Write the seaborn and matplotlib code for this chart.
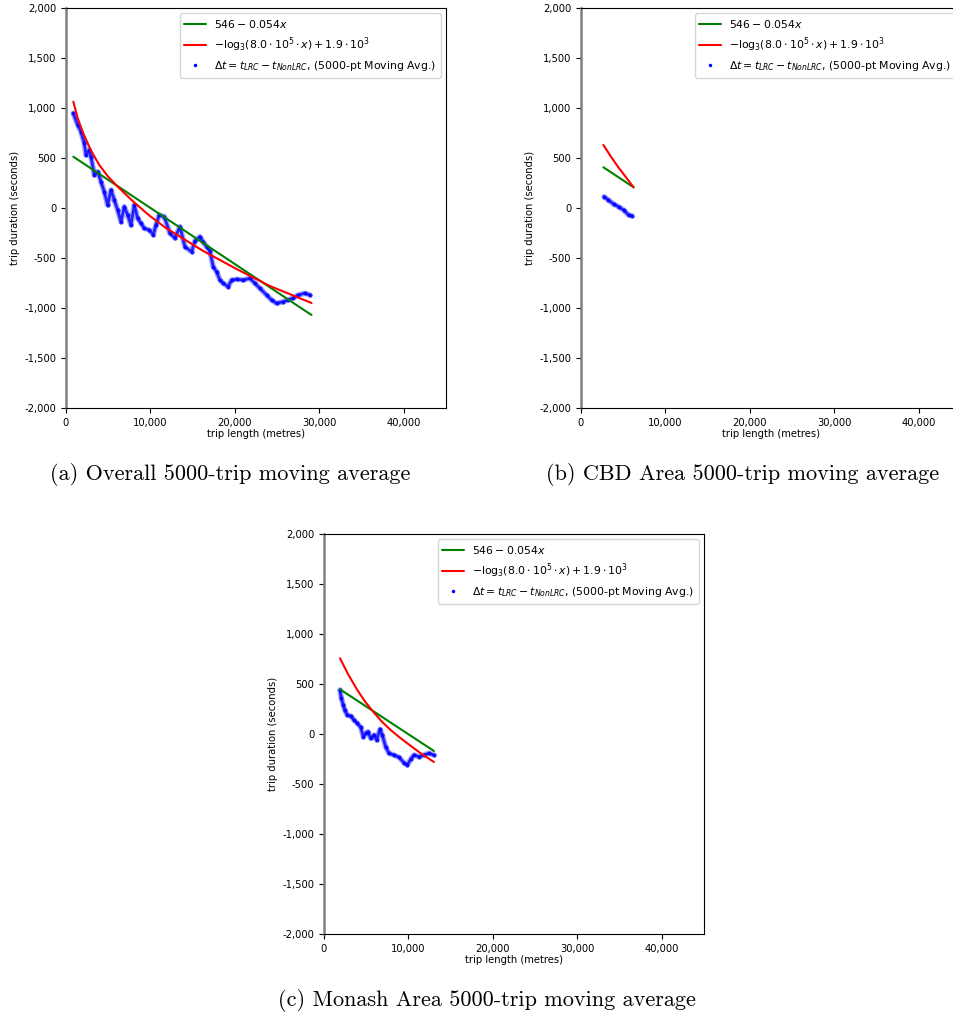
import numpy as np
import matplotlib
matplotlib.use("Agg")
import matplotlib.pyplot as plt
from matplotlib.lines import Line2D
from matplotlib.ticker import FuncFormatter
import seaborn as sns

# ---- data ----
# (a) Overall
a_len = [868, 1381, 1775, 2170, 2367, 2762, 2959, 3353, 3748, 4142, 4537, 4931, 5326, 5720,
         6115, 6509, 6904, 7298, 7693, 8087, 8482, 8876, 9271, 9863, 10336, 10652, 11046, 11638,
         12308, 12899, 13491, 14083, 14871, 15266, 15858, 16252, 16647, 17041, 17436, 17830,
         18225, 18619, 19211, 19606, 20197, 20986, 21775, 22367, 22959, 23748, 24339, 24931,
         25720, 26312, 26903, 27495, 28284, 28876]
a_dt = [947, 830, 763, 647, 530, 580, 513, 330, 363, 263, 163, 30, 180, 80,
        -20, -137, 13, -70, -170, 30, -103, -153, -203, -220, -267, -170, -70, -87,
        -253, -300, -187, -387, -437, -330, -287, -340, -387, -430, -587, -637,
        -720, -753, -787, -720, -713, -720, -703, -753, -803, -870, -920, -953,
        -937, -920, -900, -870, -853, -870]
a_lin_x = [868, 29073]
a_lin_y = [513, -1070]
a_log_x = [868, 1381, 1972, 2959, 3945, 4931, 5918, 7890, 9863, 11835, 16252, 20197, 24142, 29073]
a_log_y = [1063, 900, 760, 575, 430, 320, 230, 70, -75, -200, -430, -610, -780, -950]

# (b) CBD
b_len = [2738, 3254, 3849, 4444, 5040, 5635, 6032]
b_dt = [113, 80, 40, 13, -20, -70, -77]
b_lin_x = [2655, 6230]
b_lin_y = [407, 207]
b_log_x = [2655, 3452, 4440, 5440, 6230]
b_log_y = [630, 525, 405, 295, 207]

# (c) Monash
c_len = [1894, 2051, 2288, 2446, 2762, 3156, 3551, 3945, 4340, 4655, 4931, 5207, 5523, 5918,
         6233, 6628, 6904, 7298, 7693, 8285, 8876, 9468, 9863, 10257, 10652, 11243, 11835,
         12427, 13019]
c_dt = [440, 357, 290, 240, 190, 180, 140, 107, 67, -27, 7, 23, -43, -10,
        -60, 47, -10, -127, -193, -210, -233, -287, -310, -253, -210, -227, -210,
        -193, -210]
c_lin_x = [1894, 13019]
c_lin_y = [447, -170]
c_log_x = [1894, 2900, 3945, 4900, 5918, 6900, 7890, 8900, 9863, 11400, 13019]
c_log_y = [757, 590, 440, 320, 213, 120, 40, -30, -93, -190, -280]

captions = ["(a) Overall 5000-trip moving average",
            "(b) CBD Area 5000-trip moving average",
            "(c) Monash Area 5000-trip moving average"]

lin_label = r"$546 - 0.054x$"
log_label = r"$-\mathrm{log}_3(8.0\cdot10^5\cdot x) + 1.9\cdot10^3$"
ma_label = r"$\Delta t = t_{LRC} - t_{NonLRC}$, (5000-pt Moving Avg.)"

sns.set_style("ticks")
plt.rcParams["font.family"] = ["DejaVu Sans"]
plt.rcParams["font.size"] = 7.2
plt.rcParams["text.color"] = "black"
plt.rcParams["axes.labelcolor"] = "black"

fig = plt.figure(figsize=(9.54, 10.18), dpi=100)

W, H = 954, 1018
def px_axes(left, top, w=380, h=400):
    return fig.add_axes([left / W, 1 - (top + h) / H, w / W, h / H])

panels = [
    (px_axes(66, 8), a_len, a_dt, a_lin_x, a_lin_y, a_log_x, a_log_y),
    (px_axes(581, 8), b_len, b_dt, b_lin_x, b_lin_y, b_log_x, b_log_y),
    (px_axes(324, 534), c_len, c_dt, c_lin_x, c_lin_y, c_log_x, c_log_y),
]

fmt = FuncFormatter(lambda v, p: f"{v:,.0f}")
for ax, xl, yl, lx, ly, gx, gy in panels:
    # moving average band: wide translucent stroke + denser core
    sns.lineplot(x=xl, y=yl, ax=ax, color="blue", lw=4.0, alpha=0.35, sort=False,
                 estimator=None)
    sns.lineplot(x=xl, y=yl, ax=ax, color="blue", lw=2.0, alpha=0.8, sort=False,
                 estimator=None, marker="o", markersize=3, markeredgewidth=0)
    sns.lineplot(x=lx, y=ly, ax=ax, color="green", lw=1.5, sort=False, estimator=None)
    sns.lineplot(x=gx, y=gy, ax=ax, color="red", lw=1.5, sort=False, estimator=None)
    ax.set_xlim(0, 45000)
    ax.set_ylim(-2000, 2000)
    ax.set_xticks([0, 10000, 20000, 30000, 40000])
    ax.set_yticks(np.arange(-2000, 2001, 500))
    ax.xaxis.set_major_formatter(fmt)
    ax.yaxis.set_major_formatter(fmt)
    ax.tick_params(labelsize=7.2, length=3.5, width=0.8, colors="black")
    for s in ax.spines.values():
        s.set_color("black")
        s.set_linewidth(0.8)
    ax.spines["left"].set_color("gray")
    ax.spines["left"].set_linewidth(1.8)
    ax.set_xlabel("trip length (metres)", fontsize=7.2, labelpad=1)
    ax.set_ylabel("trip duration (seconds)", fontsize=7.2, labelpad=3)
    handles = [Line2D([], [], color="green", lw=1.5),
               Line2D([], [], color="red", lw=1.5),
               Line2D([], [], color="blue", marker=".", markersize=3, linestyle="none")]
    ax.legend(handles, [lin_label, log_label, ma_label], loc="upper right",
              fontsize=7.8, frameon=True, fancybox=True, edgecolor="0.8")

cap_font = dict(family="cmr10", fontsize=16, ha="center", va="center")
fig.text(230 / W, 1 - 474 / H, captions[0], **cap_font)
fig.text(743 / W, 1 - 475 / H, captions[1], **cap_font)
fig.text(487 / W, 1 - 1000 / H, captions[2], **cap_font)

fig.savefig("out.png", dpi=100)
